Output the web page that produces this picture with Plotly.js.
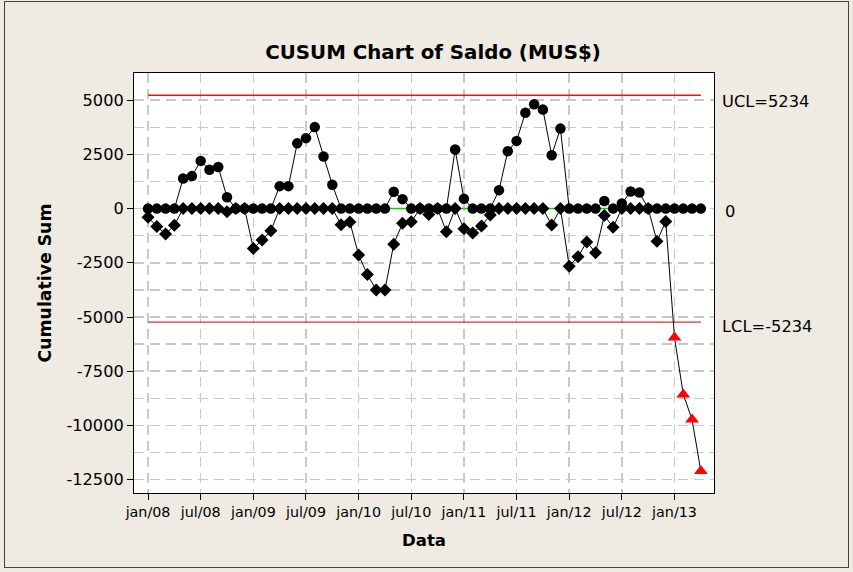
<!DOCTYPE html>
<html>
<head>
<meta charset="utf-8">
<script src="https://cdn.plot.ly/plotly-3.0.1.min.js"></script>
<style>
  html, body { margin:0; padding:0; background:#EFEBE2; }
  #chart { width:853px; height:572px; }
  #frame { position:absolute; left:4px; top:1px; width:843px; height:565px; border:1px solid #444; pointer-events:none; }
</style>
</head>
<body>
<div id="chart"></div>
<div id="frame"></div>
<script>
// Monthly periods jan/08 .. apr/13
var periods = ["jan/08","feb/08","mar/08","apr/08","may/08","jun/08","jul/08","aug/08","sep/08","oct/08","nov/08","dec/08",
               "jan/09","feb/09","mar/09","apr/09","may/09","jun/09","jul/09","aug/09","sep/09","oct/09","nov/09","dec/09",
               "jan/10","feb/10","mar/10","apr/10","may/10","jun/10","jul/10","aug/10","sep/10","oct/10","nov/10","dec/10",
               "jan/11","feb/11","mar/11","apr/11","may/11","jun/11","jul/11","aug/11","sep/11","oct/11","nov/11","dec/11",
               "jan/12","feb/12","mar/12","apr/12","may/12","jun/12","jul/12","aug/12","sep/12","oct/12","nov/12","dec/12",
               "jan/13","feb/13","mar/13","apr/13"];

// Upper CUSUM (circles)
var upperCusum = [0,0,0,0,1390,1500,2200,1790,1920,520,0,0,
                  0,0,0,1036,1036,3010,3250,3760,2400,1100,0,0,
                  0,0,0,0,780,437,0,0,0,0,0,2725,
                  450,0,0,0,852,2648,3123,4420,4812,4567,2464,3690,
                  0,0,0,0,350,0,240,790,745,0,0,0,
                  0,0,0,0];

// Lower CUSUM (diamonds)
var lowerCusum = [-400,-820,-1175,-770,0,0,0,0,0,-150,0,0,
                  -1835,-1450,-1020,0,0,0,0,0,0,0,-740,-615,
                  -2140,-3045,-3753,-3753,-1640,-680,-610,0,-270,0,-1067,0,
                  -930,-1130,-800,-300,0,0,0,0,0,0,-760,0,
                  -2660,-2218,-1540,-2034,-320,-860,0,0,0,0,-1510,-590,
                  -5950,-8570,-9730,-12100];

var ucl = 5234;
var lcl = -5234;
var center = 0;

var tickPeriods = ["jan/08","jul/08","jan/09","jul/09","jan/10","jul/10","jan/11","jul/11","jan/12","jul/12","jan/13"];
var yTickValues = [5000, 2500, 0, -2500, -5000, -7500, -10000, -12500];
var yTickLabels = ["5000","2500","0","-2500","-5000","-7500","-10000","-12500"];

function constLine(v) { return periods.map(function(){ return v; }); }

var lowerSymbols = lowerCusum.map(function(v){ return v < lcl ? 'triangle-up' : 'diamond'; });
var lowerColors  = lowerCusum.map(function(v){ return v < lcl ? '#FF0000' : '#000000'; });
var lowerSizes   = lowerCusum.map(function(v){ return v < lcl ? 12 : 10; });

var traces = [
  { x: periods, y: constLine(center), mode:'lines', line:{color:'#00E000', width:1.5}, hoverinfo:'skip' },
  { x: periods, y: constLine(ucl), mode:'lines', line:{color:'#F01010', width:1.5}, hoverinfo:'skip' },
  { x: periods, y: constLine(lcl), mode:'lines', line:{color:'#D00000', width:1}, hoverinfo:'skip' },
  { x: periods, y: upperCusum, mode:'lines+markers', line:{color:'#000', width:1},
    marker:{symbol:'circle', size:10.5, color:'#000', opacity:1} },
  { x: periods, y: lowerCusum, mode:'lines+markers', line:{color:'#000', width:1},
    marker:{symbol:lowerSymbols, size:lowerSizes, color:lowerColors, opacity:1, line:{width:0}} }
];

var font = "DejaVu Sans, Verdana, sans-serif";

var layout = {
  width: 853, height: 572,
  paper_bgcolor: '#EFEBE2',
  plot_bgcolor: '#FFFFFF',
  showlegend: false,
  margin: {l:134, r:139, t:73, b:79},
  font: {family: font, color:'#000'},
  title: { text:'<b>CUSUM Chart of Saldo (MUS$)</b>', font:{family:font, size:19.8, color:'#000'},
           x:433/853, xref:'container', xanchor:'center', y:1-52/572, yref:'container', yanchor:'middle' },
  xaxis: {
    type:'category',
    range:[-1.6, 64.5],
    tickmode:'array', tickvals: tickPeriods, ticktext: tickPeriods,
    tickfont:{size:14.3, family:font},
    ticks:'outside', ticklen:6, tickcolor:'#000', tickwidth:1,
    showgrid:true, gridcolor:'#C8C8C8', gridwidth:1.5, griddash:'10px,6px',
    showline:true, linecolor:'#000', linewidth:1, mirror:true,
    zeroline:false,
    title:{text:'<b>Data</b>', font:{size:16.5, family:font}, standoff:15}
  },
  yaxis: {
    range:[-13118, 6255],
    tickmode:'array', tickvals: yTickValues, ticktext: yTickLabels,
    tickfont:{size:16.2, family:font},
    ticks:'outside', ticklen:6, tickcolor:'#000', tickwidth:1,
    showgrid:true, gridcolor:'#C8C8C8', gridwidth:1.5, griddash:'10px,6px',
    minor:{tickmode:'linear', tick0:0, dtick:1250, showgrid:true, gridcolor:'#C8C8C8', gridwidth:1.5, griddash:'10px,6px', ticks:''},
    showline:true, linecolor:'#000', linewidth:1, mirror:true,
    zeroline:false,
    title:{text:'<b>Cumulative Sum</b>', font:{size:17.3, family:font}, standoff:10}
  },
  annotations: [
    { text:'UCL=5234', xref:'paper', x:1, xshift:6, xanchor:'left', yref:'y', y:ucl, yshift:-6, showarrow:false, font:{size:16.3, family:font} },
    { text:'0', xref:'paper', x:1, xshift:9, xanchor:'left', yref:'y', y:center, yshift:-3, showarrow:false, font:{size:16.3, family:font} },
    { text:'LCL=-5234', xref:'paper', x:1, xshift:6, xanchor:'left', yref:'y', y:lcl, yshift:-4, showarrow:false, font:{size:16.3, family:font} }
  ]
};

Plotly.newPlot('chart', traces, layout, {displayModeBar:false, staticPlot:true});
</script>
</body>
</html>
